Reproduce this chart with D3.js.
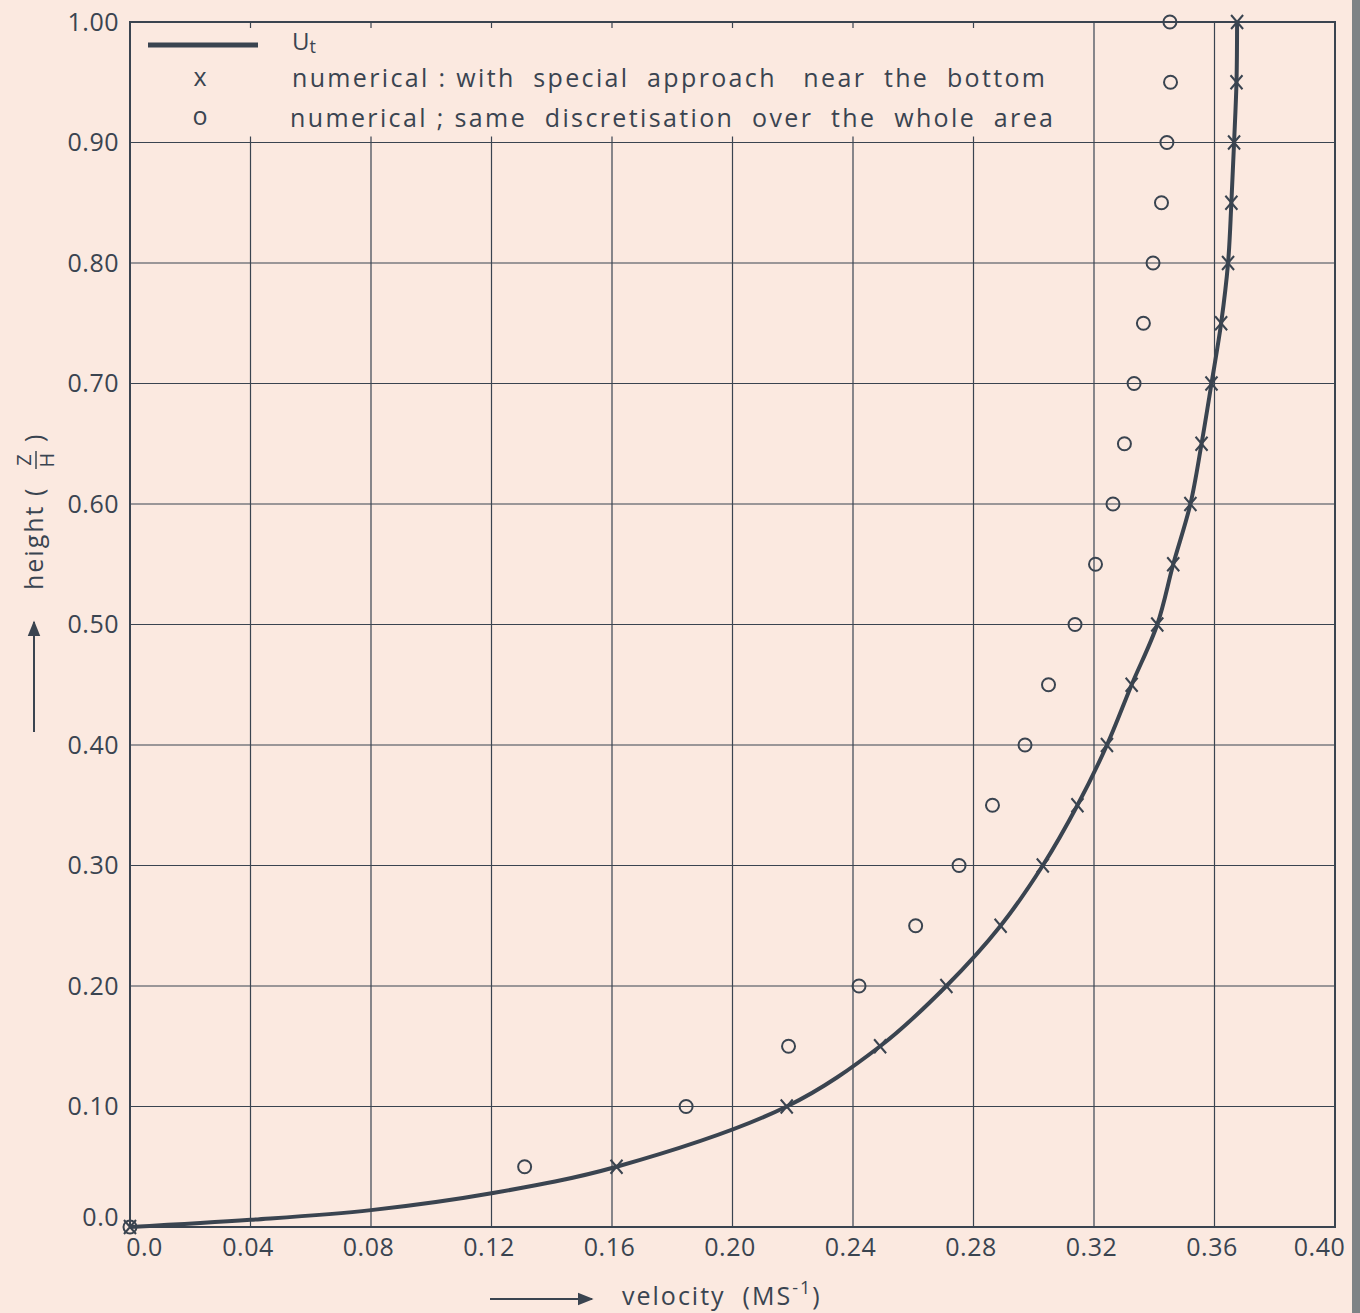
<!DOCTYPE html>
<html>
<head>
<meta charset="utf-8">
<script src="https://cdn.jsdelivr.net/npm/d3@7"></script>
<style>
  body { margin: 0; background: #fbe9e0; }
  svg { display: block; }
  text { font-family: "Open Sans", sans-serif; font-weight: 400; fill: #3a4450; white-space: pre; }
</style>
</head>
<body>
<script>
// relative heights (Z/H) where the numerical values are given
const heights = [0, 0.05, 0.10, 0.15, 0.20, 0.25, 0.30, 0.35, 0.40, 0.45, 0.50,
  0.55, 0.60, 0.65, 0.70, 0.75, 0.80, 0.85, 0.90, 0.95, 1.00]

// x : numerical, with special approach near the bottom
const specialApproach = [0, 0.1615, 0.218, 0.249, 0.271, 0.289, 0.303, 0.3145, 0.3243, 0.3325, 0.341,
  0.3463, 0.352, 0.3557, 0.359, 0.3622, 0.3645, 0.3656, 0.3665, 0.3673, 0.3675]

// o : numerical, same discretisation over the whole area
const sameDiscretisation = [0, 0.131, 0.1846, 0.2186, 0.242, 0.2608, 0.2752, 0.2863, 0.2971, 0.3049, 0.3137,
  0.3205, 0.3263, 0.3301, 0.3333, 0.3364, 0.3396, 0.3424, 0.3442, 0.3454, 0.3452]

// Ut curve
const utVelocity = [0, 0.04, 0.08, 0.12, 0.1615, 0.218, 0.249, 0.271, 0.289, 0.303, 0.3145,
  0.3243, 0.3325, 0.341, 0.3463, 0.352, 0.3557, 0.359, 0.3622, 0.3645, 0.3656, 0.3665, 0.3673, 0.3675]
const utHeight = [0, 0.006, 0.014, 0.028, 0.05, 0.10, 0.15, 0.20, 0.25, 0.30, 0.35,
  0.40, 0.45, 0.50, 0.55, 0.60, 0.65, 0.70, 0.75, 0.80, 0.85, 0.90, 0.95, 1.00]

const velTicks = [0, 0.04, 0.08, 0.12, 0.16, 0.20, 0.24, 0.28, 0.32, 0.36, 0.40]
const velTickLabels = ['0.0', '0.04', '0.08', '0.12', '0.16', '0.20', '0.24', '0.28', '0.32', '0.36', '0.40']
const heightTicks = [0, 0.1, 0.2, 0.3, 0.4, 0.5, 0.6, 0.7, 0.8, 0.9, 1.0]
const heightTickLabels = ['0.0', '0.10', '0.20', '0.30', '0.40', '0.50', '0.60', '0.70', '0.80', '0.90', '1.00']

const legendItems = ['numerical : with  special  approach   near  the  bottom',
  'numerical ; same  discretisation  over  the  whole  area']

const ink = '#3a4450'
const margin = {top: 22, right: 25, bottom: 86, left: 130}
const width = 1360 - margin.left - margin.right
const height = 1313 - margin.top - margin.bottom

const x = d3.scaleLinear().domain([0, 0.40]).range([0, width])
const y = d3.scaleLinear().domain([0, 1]).range([height, 0])

const root = d3.select('body').append('svg')
  .attr('width', 1360)
  .attr('height', 1313)

root.append('rect').attr('width', 1360).attr('height', 1313).attr('fill', '#fbe9e0')
// dark edge of the scanned page
root.append('rect').attr('x', 1352).attr('y', 0).attr('width', 8).attr('height', 1313)
  .attr('fill', '#7e8386')

const svg = root.append('g')
  .attr('transform', 'translate(' + margin.left + ',' + margin.top + ')')

// grid: vertical lines stop under the legend band, leaving short ticks
const legendEnd = 0.30
const grid = svg.append('g').attr('stroke', ink).attr('stroke-width', 1.2)
velTicks.slice(1, -1).forEach(function(v) {
  if (v < legendEnd) {
    grid.append('line').attr('x1', x(v)).attr('x2', x(v)).attr('y1', y(0)).attr('y2', y(0.9))
    grid.append('line').attr('x1', x(v)).attr('x2', x(v)).attr('y1', y(1)).attr('y2', y(1) + 6)
    grid.append('line').attr('x1', x(v)).attr('x2', x(v)).attr('y1', y(0.9)).attr('y2', y(0.9) - 6)
  } else {
    grid.append('line').attr('x1', x(v)).attr('x2', x(v)).attr('y1', y(0)).attr('y2', y(1))
  }
})
heightTicks.slice(1, -1).forEach(function(h) {
  grid.append('line').attr('x1', 0).attr('x2', width).attr('y1', y(h)).attr('y2', y(h))
})

svg.append('rect')
  .attr('width', width).attr('height', height)
  .attr('fill', 'none').attr('stroke', ink).attr('stroke-width', 2)

// axes labels via d3 axes
const xAxis = svg.append('g')
  .attr('transform', 'translate(0,' + height + ')')
  .call(d3.axisBottom(x).tickValues(velTicks).tickSize(0).tickPadding(11)
    .tickFormat(function(d, i) { return velTickLabels[i] }))
xAxis.select('.domain').remove()
xAxis.selectAll('text')
  .attr('font-size', 25).attr('letter-spacing', 0.5).attr('fill', ink)
  .style('font-family', '"Open Sans", sans-serif')
  .attr('dx', function(d, i) { return i === 0 ? 14 : (i === velTicks.length - 1 ? -16 : -3) })

const yAxis = svg.append('g')
  .call(d3.axisLeft(y).tickValues(heightTicks).tickSize(0).tickPadding(11)
    .tickFormat(function(d, i) { return heightTickLabels[i] }))
yAxis.select('.domain').remove()
yAxis.selectAll('text')
  .attr('font-size', 25).attr('letter-spacing', 0.5).attr('fill', ink)
  .style('font-family', '"Open Sans", sans-serif')
  .attr('dy', function(d, i) { return i === 0 ? '-0.05em' : '0.32em' })

// Ut line
const utData = utVelocity.map(function(v, i) { return {v: v, h: utHeight[i]} })
const line = d3.line()
  .x(function(d) { return x(d.v) })
  .y(function(d) { return y(d.h) })
  .curve(d3.curveCatmullRom.alpha(0.5))
svg.append('path')
  .datum(utData)
  .attr('d', line)
  .attr('fill', 'none')
  .attr('stroke', ink)
  .attr('stroke-width', 4)

// x markers
svg.append('g').selectAll('path')
  .data(heights)
  .join('path')
  .attr('transform', function(h, i) { return 'translate(' + x(specialApproach[i]) + ',' + y(h) + ')' })
  .attr('d', 'M-6,-7L6,7M-6,7L6,-7')
  .attr('stroke', ink)
  .attr('stroke-width', 2)

// o markers
svg.append('g').selectAll('circle')
  .data(heights)
  .join('circle')
  .attr('cx', function(h, i) { return x(sameDiscretisation[i]) })
  .attr('cy', function(h) { return y(h) })
  .attr('r', 6.5)
  .attr('fill', 'none')
  .attr('stroke', ink)
  .attr('stroke-width', 2)

// legend
const legend = root.append('g')
legend.append('line')
  .attr('x1', 148).attr('x2', 258).attr('y1', 45).attr('y2', 45)
  .attr('stroke', ink).attr('stroke-width', 5)
const ut = legend.append('text').attr('x', 292).attr('y', 50).attr('font-size', 24)
ut.append('tspan').text('U')
ut.append('tspan').attr('dy', 3).attr('font-size', 18).text('t')
legend.append('text').attr('x', 200).attr('y', 86).attr('font-size', 25)
  .attr('text-anchor', 'middle').text('x')
legend.append('text').attr('x', 200).attr('y', 125).attr('font-size', 25)
  .attr('text-anchor', 'middle').text('o')
legend.append('text').attr('x', 292).attr('y', 87).attr('font-size', 25)
  .attr('textLength', 753).attr('lengthAdjust', 'spacing').text(legendItems[0])
legend.append('text').attr('x', 290).attr('y', 127).attr('font-size', 25)
  .attr('textLength', 763).attr('lengthAdjust', 'spacing').text(legendItems[1])

// axis titles with arrows
const defs = root.append('defs')
defs.append('marker')
  .attr('id', 'arrow').attr('viewBox', '0 0 10 10').attr('refX', 9).attr('refY', 5)
  .attr('markerWidth', 16).attr('markerHeight', 16).attr('markerUnits', 'userSpaceOnUse')
  .attr('orient', 'auto')
  .append('path').attr('d', 'M0,1L10,5L0,9Z').attr('fill', ink)

root.append('line')
  .attr('x1', 490).attr('x2', 592).attr('y1', 1299).attr('y2', 1299)
  .attr('stroke', ink).attr('stroke-width', 2).attr('marker-end', 'url(#arrow)')
const xt = root.append('text').attr('x', 622).attr('y', 1305).attr('font-size', 25)
  .attr('letter-spacing', 2)
xt.append('tspan').text('velocity  (MS')
xt.append('tspan').attr('dy', -11).attr('font-size', 18).text('-1')
xt.append('tspan').attr('dy', 11).text(')')

root.append('line')
  .attr('x1', 34).attr('x2', 34).attr('y1', 732).attr('y2', 622)
  .attr('stroke', ink).attr('stroke-width', 2).attr('marker-end', 'url(#arrow)')
const yt = root.append('g').attr('transform', 'translate(43,590) rotate(-90)')
yt.append('text').attr('x', 0).attr('y', 0).attr('font-size', 25).attr('letter-spacing', 2)
  .text('height (')
yt.append('text').attr('x', 130).attr('y', -12).attr('font-size', 20)
  .attr('text-anchor', 'middle').text('Z')
yt.append('line').attr('x1', 121).attr('x2', 139).attr('y1', -7).attr('y2', -7)
  .attr('stroke', ink).attr('stroke-width', 1.5)
yt.append('text').attr('x', 130).attr('y', 11).attr('font-size', 20)
  .attr('text-anchor', 'middle').text('H')
yt.append('text').attr('x', 148).attr('y', 0).attr('font-size', 25).text(')')
</script>
</body>
</html>
